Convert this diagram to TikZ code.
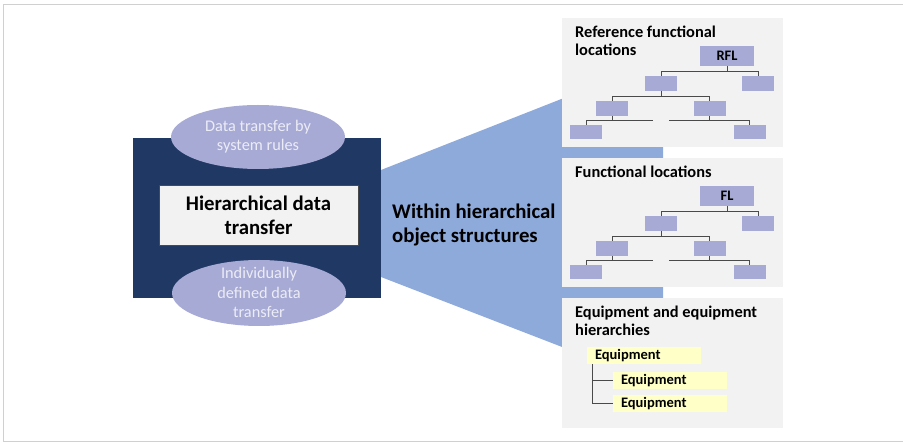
\documentclass[tikz,border=0pt]{standalone}
\usepackage{fontspec}
\setmainfont{Carlito}
\usetikzlibrary{shapes.geometric,calc}

\definecolor{navy}{HTML}{203864}
\definecolor{lavender}{HTML}{A6AAD4}
\definecolor{lavtext}{HTML}{ECECF6}
\definecolor{wedgeblue}{HTML}{8EAADB}
\definecolor{panelgray}{HTML}{F2F2F2}
\definecolor{eqyellow}{HTML}{FFFFC8}
\definecolor{framegray}{HTML}{D0D0D0}
\definecolor{linegray}{HTML}{4A4A4A}

\tikzset{
  panel/.style={fill=panelgray, draw=none},
  paneltitle/.style={anchor=north west, inner sep=0, align=left,
    font=\bfseries\fontsize{16.4}{17.5}\selectfont},
  treebox/.style={fill=lavender, draw=none, minimum width=32, minimum height=15, inner sep=0},
  treeroot/.style={treebox, minimum width=54, minimum height=20,
    font=\bfseries\fontsize{14.5}{15}\selectfont},
  treeline/.style={draw=linegray, line width=0.9pt},
  eqbox/.style={fill=eqyellow, draw=none, text width=98, inner xsep=8, inner ysep=0,
    minimum height=17, font=\bfseries\fontsize{14.5}{15}\selectfont},
  eqline/.style={draw=linegray, line width=1.2pt},
  oval/.style={ellipse, fill=lavender, draw=none, minimum width=174, minimum height=64, inner sep=0},
  ovaltext/.style={align=center, text=lavtext, inner sep=0,
    font=\fontsize{16.3}{19.5}\selectfont},
  bigtext/.style={inner sep=0, font=\bfseries\fontsize{20.8}{24}\selectfont},
}

% A small location hierarchy: root, two children, two grandchildren, two leaves
\newcommand\loctree[3]{%
  \begin{scope}[shift={(0,#2)}]
    \node[treeroot] (#1r) at (727,56) {#3};
    \node[treebox] (#1a1) at (661,83.5) {};
    \node[treebox] (#1a2) at (758,83.5) {};
    \node[treebox] (#1b1) at (612,108.5) {};
    \node[treebox] (#1b2) at (709.5,108.5) {};
    \node[treebox, minimum height=14] (#1c1) at (586,132) {};
    \node[treebox, minimum height=14] (#1c2) at (749.5,132) {};
  \end{scope}
  \coordinate (#1d1) at ($(#1b1.south)+(41,4)$);
  \coordinate (#1d2) at ($(#1b2.south)+(-40.5,4)$);
  \draw[treeline] (#1r.south) -- ($(#1r.south)+(0,5)$);
  \draw[treeline] (#1a1.north) |- ($(#1r.south)+(0,5)$) -| (#1a2.north);
  \draw[treeline] (#1a1.south) -- ($(#1a1.south)+(0,5)$);
  \draw[treeline] (#1b1.north) |- ($(#1a1.south)+(0,5)$) -| (#1b2.north);
  \draw[treeline] (#1b1.south) -- ($(#1b1.south)+(0,4)$);
  \draw[treeline] (#1c1.north) |- (#1d1);
  \draw[treeline] (#1b2.south) -- ($(#1b2.south)+(0,4)$);
  \draw[treeline] (#1d2) -| (#1c2.north);
}

\begin{document}
\begin{tikzpicture}[x=1pt, y=-1pt]
\useasboundingbox (0,0) rectangle (903,443);

% outer frame
\draw[framegray, line width=1.2pt] (3.5,4.5) rectangle (906,441.5);

% widening band from the transfer block to the object structures
\fill[wedgeblue] (381,170) -- (663,59) -- (663,386) -- (381,277) -- cycle;

% right-hand panels
\node[panel, anchor=north west, minimum width=221, minimum height=129, inner sep=0] (p1) at (562,18) {};
\node[panel, anchor=north west, minimum width=221, minimum height=129, inner sep=0] (p2) at (562,158) {};
\node[panel, anchor=north west, minimum width=221, minimum height=130, inner sep=0] (p3) at (562,298) {};

\node[paneltitle] (t1) at (575,26) {Reference functional\\locations};
\node[paneltitle] (t2) at (575,166) {Functional locations};
\node[paneltitle] (t3) at (575,306) {Equipment and equipment\\hierarchies};

\loctree{p}{0}{RFL}
\loctree{q}{140}{FL}

% equipment hierarchy
\node[eqbox] (e1) at (644,355.5) {Equipment};
\node[eqbox] (e2) at (670,380.5) {Equipment};
\node[eqbox] (e3) at (670,403.5) {Equipment};
\draw[eqline] ($(e1.south west)+(6,0)$) |- (e2.west);
\draw[eqline] ($(e1.south west)+(6,0)$) |- (e3.west);

% transfer block
\node[fill=navy, draw=none, anchor=north west, minimum width=248, minimum height=160, inner sep=0] (blk) at (133,138) {};
\node[fill=panelgray, draw=linegray, line width=0.8pt, minimum width=199, minimum height=60, inner sep=0] (hdt) at (258.5,215) {};
\node[bigtext, align=center] (hdtl) at (hdt.center) {Hierarchical data\\transfer};

\node[oval] (o1) at (258,137) {};
\node[ovaltext] (o1l) at (258,136.5) {Data transfer by\\system rules};
\node[oval, minimum height=66] (o2) at (259,293) {};
\node[ovaltext] (o2l) at (259,292.5) {Individually\\defined data\\transfer};

\node[bigtext, align=left, anchor=west] (within) at (392,225) {Within hierarchical\\object structures};
\end{tikzpicture}
\end{document}
